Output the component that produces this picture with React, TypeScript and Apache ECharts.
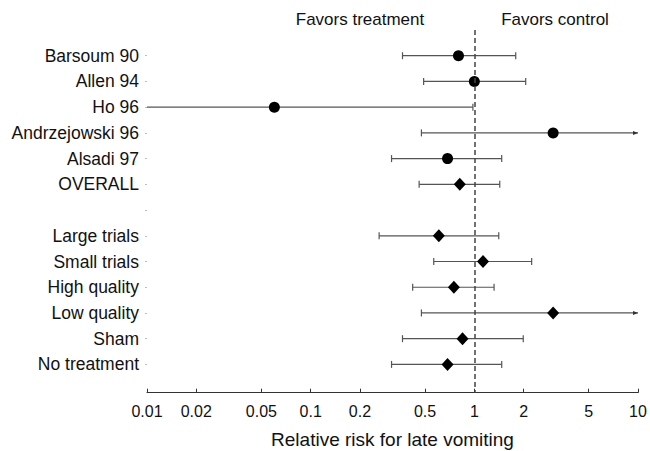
import React, { useEffect, useRef } from "react";
import * as echarts from "echarts";

const rowLabels = [
  "Barsoum 90",
  "Allen 94",
  "Ho 96",
  "Andrzejowski 96",
  "Alsadi 97",
  "OVERALL",
  "",
  "Large trials",
  "Small trials",
  "High quality",
  "Low quality",
  "Sham",
  "No treatment",
];
const estimates = [0.8, 1.0, 0.06, 3.03, 0.686, 0.815, null, 0.607, 1.13, 0.75, 3.03, 0.847, 0.686];
const lowerCI = [0.364, 0.49, 0.01, 0.475, 0.312, 0.46, null, 0.262, 0.565, 0.42, 0.475, 0.364, 0.312];
const upperCI = [1.79, 2.06, 0.98, 10, 1.47, 1.43, null, 1.41, 2.24, 1.32, 10, 1.99, 1.47];
const markerKind = ["study", "study", "study", "study", "study", "summary", "", "summary", "summary", "summary", "summary", "summary", "summary"];
const openLeft = [0, 0, 1, 0, 0, 0, 0, 0, 0, 0, 0, 0, 0];
const openRight = [0, 0, 0, 1, 0, 0, 0, 0, 0, 0, 1, 0, 0];
const xTicks = [0.01, 0.02, 0.05, 0.1, 0.2, 0.5, 1, 2, 5, 10];
const rowTicks = [0, 1, 2, 3, 4, 5, 6, 7, 8, 9, 10, 11, 12];

const FONT = "Liberation Sans, Arial, Helvetica, sans-serif";

export default function App() {
  const ref = useRef<HTMLDivElement>(null);
  useEffect(() => {
    if (!ref.current) return;
    const chart = echarts.init(ref.current, null, { renderer: "svg" });

    const ciData: any[] = [];
    const studyPts: any[] = [];
    const summaryPts: any[] = [];
    rowLabels.forEach((_, i) => {
      if (estimates[i] == null) return;
      ciData.push([lowerCI[i], i, upperCI[i], openLeft[i], openRight[i]]);
      if (markerKind[i] === "study") studyPts.push([estimates[i], i]);
      else summaryPts.push([estimates[i], i]);
    });

    const lineStyle = { stroke: "#555", lineWidth: 1.2 };

    chart.setOption({
      animation: false,
      grid: { left: 147, right: 12, top: 30, bottom: 58.3, containLabel: false, outerBoundsMode: "none" },
      xAxis: {
        type: "log",
        logBase: 10,
        min: 0.01,
        max: 10,
        name: "Relative risk for late vomiting",
        nameLocation: "middle",
        nameGap: 37,
        nameTextStyle: { fontFamily: FONT, fontSize: 19, color: "#111" },
        axisLine: { onZero: false, lineStyle: { color: "#333", width: 1 } },
        axisTick: { inside: true, length: 4, lineStyle: { color: "#333" }, customValues: xTicks },
        minorTick: { show: false },
        splitLine: { show: false },
        axisLabel: {
          customValues: xTicks,
          margin: 11,
          fontFamily: FONT,
          fontSize: 16,
          color: "#111",
          formatter: (v: number) => String(Number(v.toPrecision(3))),
        },
      },
      yAxis: {
        type: "value",
        inverse: true,
        min: -1,
        max: 13.1,
        axisLine: { show: false, onZero: false },
        splitLine: { show: false },
        axisTick: { show: true, length: 2, lineStyle: { color: "#bbb" }, customValues: rowTicks },
        axisLabel: {
          customValues: rowTicks,
          margin: 8,
          fontFamily: FONT,
          fontSize: 17.5,
          color: "#111",
          formatter: (v: number) => rowLabels[Math.round(v)] ?? "",
        },
      },
      graphic: [
        {
          type: "text",
          x: 360,
          y: 19.5,
          style: { text: "Favors treatment", font: `17px ${FONT}`, fill: "#111", textAlign: "center", textVerticalAlign: "middle" },
        },
        {
          type: "text",
          x: 555,
          y: 19.5,
          style: { text: "Favors control", font: `17px ${FONT}`, fill: "#111", textAlign: "center", textVerticalAlign: "middle" },
        },
      ],
      series: [
        {
          type: "custom",
          data: ciData,
          encode: { x: [0, 2], y: 1 },
          z: 2,
          renderItem: (params: any, api: any) => {
            const lo = api.value(0);
            const row = api.value(1);
            const hi = api.value(2);
            const oL = api.value(3);
            const oR = api.value(4);
            const p1 = api.coord([lo, row]);
            const p2 = api.coord([hi, row]);
            const children: any[] = [
              { type: "line", shape: { x1: p1[0], y1: p1[1], x2: p2[0], y2: p2[1] }, style: lineStyle },
            ];
            if (!oL) {
              children.push({ type: "line", shape: { x1: p1[0], y1: p1[1] - 3.5, x2: p1[0], y2: p1[1] + 3.5 }, style: lineStyle });
            }
            if (!oR) {
              children.push({ type: "line", shape: { x1: p2[0], y1: p2[1] - 3.5, x2: p2[0], y2: p2[1] + 3.5 }, style: lineStyle });
            } else {
              children.push({
                type: "polygon",
                shape: { points: [[p2[0], p2[1]], [p2[0] - 5, p2[1] - 2], [p2[0] - 5, p2[1] + 2]] },
                style: { fill: "#333" },
              });
            }
            return { type: "group", children };
          },
        },
        {
          type: "scatter",
          data: studyPts,
          symbol: "circle",
          symbolSize: 11,
          itemStyle: { color: "#000", opacity: 1 },
          z: 3,
          markLine: {
            silent: true,
            symbol: "none",
            label: { show: false },
            lineStyle: { color: "#444", width: 1.5, type: [5, 3] },
            data: [{ xAxis: 1 }],
          },
        },
        {
          type: "scatter",
          data: summaryPts,
          symbol: "diamond",
          symbolSize: [12, 13],
          itemStyle: { color: "#000", opacity: 1 },
          z: 3,
        },
      ],
    });
    return () => chart.dispose();
  }, []);
  return <div ref={ref} style={{ width: 650, height: 451, position: "absolute", left: 0, top: 0 }} />;
}
